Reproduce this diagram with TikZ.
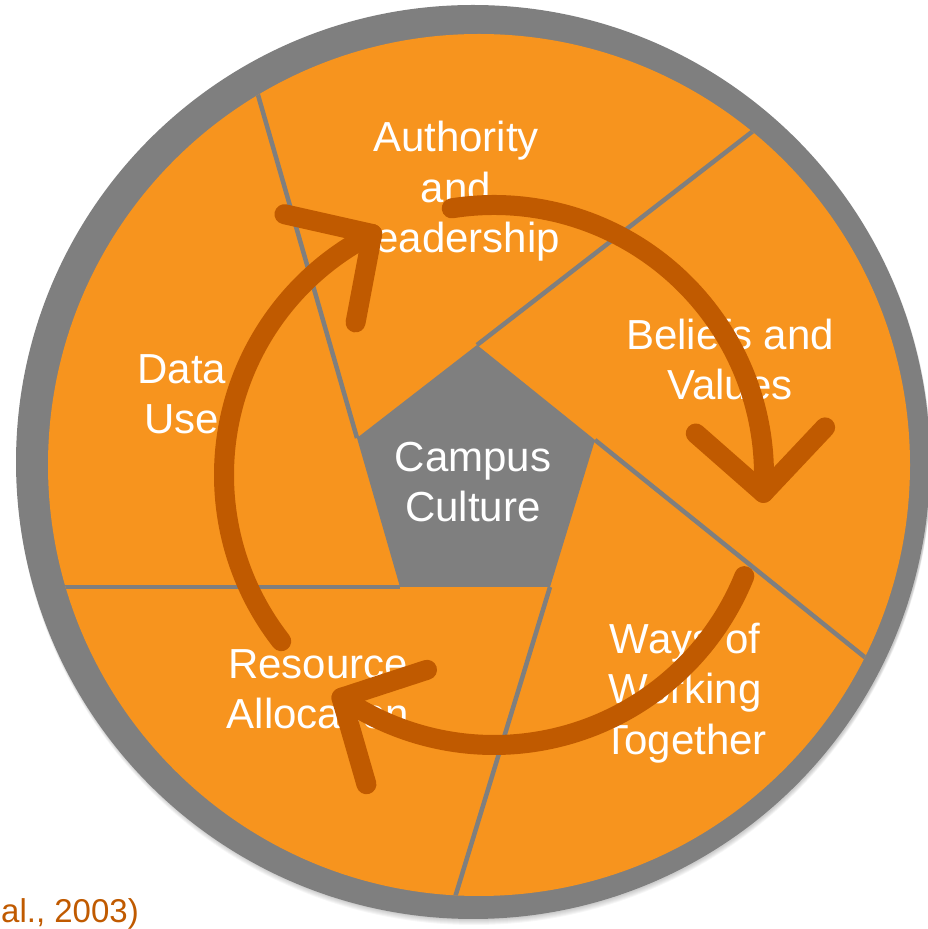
\documentclass[tikz,border=0pt]{standalone}
\usepackage{fontspec}
\setmainfont{Liberation Sans}
\usetikzlibrary{calc}
\definecolor{ringgray}{HTML}{7F7F7F}
\definecolor{petal}{HTML}{F7941E}
\definecolor{cycleink}{HTML}{C05A00}

\begin{document}
\begin{tikzpicture}[
  x=1pt,y=1pt,
  line cap=butt,line join=miter,
  petaltext/.style={text=white,align=center,inner sep=0pt,
                    font=\fontsize{42}{50.5}\selectfont},
  divider/.style={draw=ringgray,line width=4.5pt},
  cyclearrow/.style={draw=cycleink,line width=20pt,line cap=round,
                     line join=round}
]
\useasboundingbox (0,0) rectangle (927,929);
% soft shadow under the rim
\foreach \d in {1,...,6}
  \fill[black,opacity=.035] (474,{467-\d}) circle[radius=457pt];
\fill[ringgray] (473,467) circle[radius=457pt];
\fill[petal] (479,464) circle[radius=431pt];
% pentagon corners
\coordinate (ctop) at (477,584);
\coordinate (cright) at (595,489);
\coordinate (cbr) at (550,342);
\coordinate (cbl) at (400,342);
\coordinate (cleft) at (357,491);
\fill[ringgray] (ctop)--(cright)--(cbr)--(cbl)--(cleft)--cycle;
% every side of the pentagon runs on out to the rim
\begin{scope}
  \clip (479,464) circle[radius=431pt];
  \draw[divider] (ctop) -- ($(cleft)!4!(ctop)$);
  \draw[divider] (cright) -- ($(ctop)!4!(cright)$);
  \draw[divider] (cbr) -- ($(cright)!4!(cbr)$);
  \draw[divider] (cbl) -- ($(cbr)!4!(cbl)$);
  \draw[divider] (cleft) -- ($(cbl)!4!(cleft)$);
\end{scope}
\node[petaltext] (campus) at (473,447) {Campus\\Culture};
\node[petaltext] (authority) at (456,737.5) {Authority\\and\\Leadership};
\node[petaltext] (beliefs) at (730,569.5) {Beliefs and\\Values};
\node[petaltext] (ways) at (685,236) {Ways of\\Working\\Together};
\node[petaltext] (resource) at (318,239.5) {Resource\\Allocation};
\node[petaltext] (data) at (182,534.5) {Data\\Use};
% the three arcs of the cycle, each with an open chevron at its tip
\coordinate (hub) at (494,454);
\coordinate (tipA) at ($(hub)+(-3.8:270pt)$);
\coordinate (backA) at ($(hub)+(9.2:270pt)$);
\coordinate (tipB) at ($(hub)+(-124.4:270pt)$);
\coordinate (backB) at ($(hub)+(-111.4:270pt)$);
\coordinate (tipC) at ($(hub)+(116.8:270pt)$);
\coordinate (backC) at ($(hub)+(129.8:270pt)$);
\draw[cyclearrow] ($(hub)+(99:270pt)$) arc[start angle=99,end angle=-3.8,radius=270pt];
\draw[cyclearrow] ($(tipA)!90pt!46:(backA)$) -- (tipA) -- ($(tipA)!90pt!-46:(backA)$);
\draw[cyclearrow] ($(hub)+(-22:270pt)$) arc[start angle=-22,end angle=-124.4,radius=270pt];
\draw[cyclearrow] ($(tipB)!90pt!46:(backB)$) -- (tipB) -- ($(tipB)!90pt!-46:(backB)$);
\draw[cyclearrow] ($(hub)+(218:270pt)$) arc[start angle=218,end angle=116.8,radius=270pt];
\draw[cyclearrow] ($(tipC)!90pt!46:(backC)$) -- (tipC) -- ($(tipC)!90pt!-46:(backC)$);
\node[text=cycleink,font=\fontsize{33}{40}\selectfont,anchor=base west,
      inner sep=0pt] (cite) at (1,6) {al., 2003)};
\end{tikzpicture}
\end{document}
